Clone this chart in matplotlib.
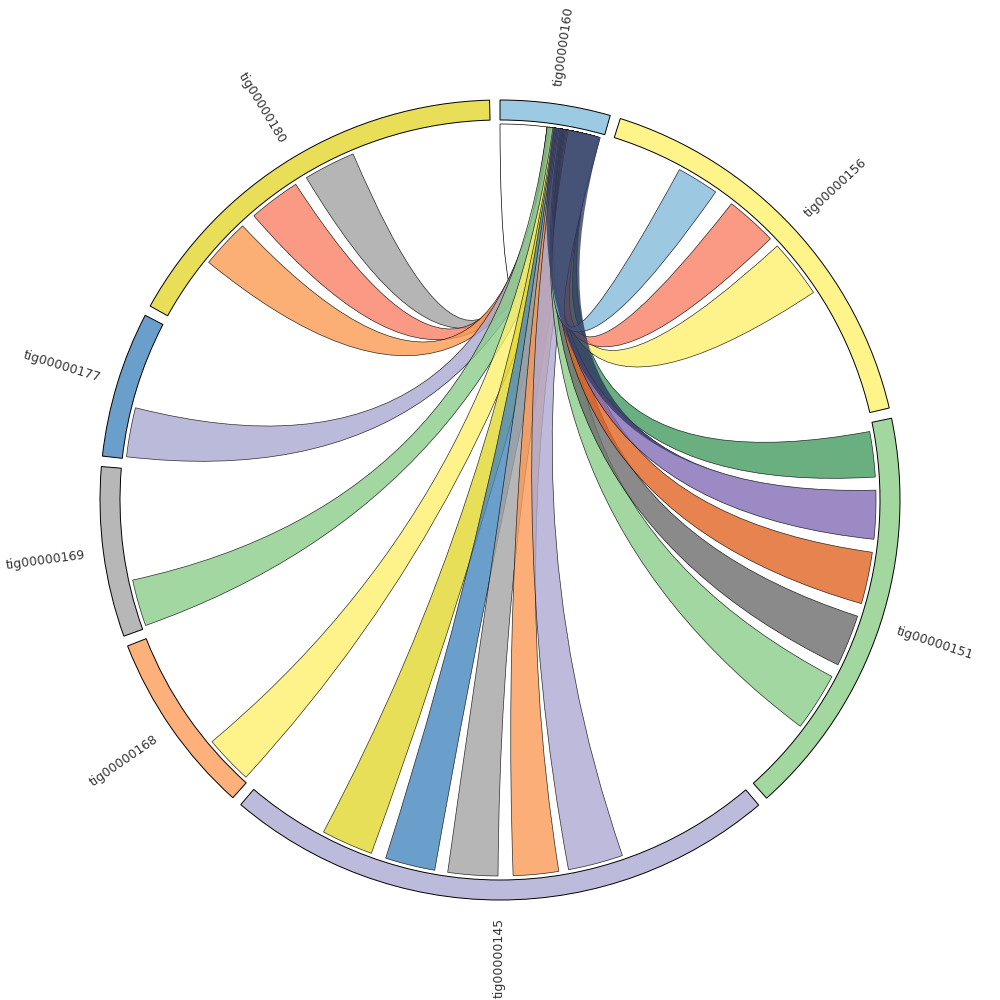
import numpy as np
import matplotlib.pyplot as plt
from matplotlib.path import Path
from matplotlib.patches import PathPatch, Wedge
from matplotlib.colors import to_rgb

# contigs around the circle, clockwise from the top (sizes in degrees of arc)
contigs = ['tig00000160', 'tig00000156', 'tig00000151', 'tig00000145',
           'tig00000168', 'tig00000169', 'tig00000177', 'tig00000180']
sizes = [16.0, 59.2, 60.0, 80.7, 26.7, 24.7, 21.2, 59.5]
arc_colors = ['#9ccae3', '#fef48a', '#a2d8a0', '#bcbbdc',
              '#fdb07a', '#b7b7b7', '#6a9fcc', '#e8de58']

# links: every one starts on tig00000160 (hub) and ends on a target contig
link_target = ['tig00000160',
               'tig00000180', 'tig00000180', 'tig00000180',
               'tig00000177', 'tig00000169', 'tig00000168',
               'tig00000145', 'tig00000145', 'tig00000145', 'tig00000145', 'tig00000145',
               'tig00000151', 'tig00000151', 'tig00000151', 'tig00000151', 'tig00000151',
               'tig00000156', 'tig00000156', 'tig00000156',
               'tig00000151']
hub_start = [0.0, 7.2, 7.4, 7.55, 7.75, 7.2, 8.1, 8.3, 8.45, 8.65, 8.8, 9.0,
             9.2, 9.35, 9.55, 9.7, 9.9, 10.1, 10.25, 10.45, 8.1]
hub_end = [7.2, 12.2, 12.4, 12.55, 12.75, 12.9, 13.1, 13.3, 13.45, 13.65, 13.8, 14.0,
           14.2, 14.35, 14.55, 14.7, 14.9, 15.1, 15.25, 15.45, 15.5]
tgt_start = [9.0, 30.0, 20.1, 10.2, 0.3, 0.4, 0.6, 60.3, 50.3, 40.6, 31.3, 21.3,
             39.8, 29.8, 19.8, 10.3, 1.3, 30.0, 20.5, 11.0, 10.3]
tgt_end = [15.0, 38.0, 28.1, 17.8, 7.9, 7.6, 8.1, 68.3, 58.0, 48.3, 38.3, 29.8,
           48.8, 37.8, 27.8, 17.8, 8.3, 39.0, 28.5, 17.5, 10.3]
link_colors = ['#ffffff',
               '#b5b5b5', '#fa9a84', '#fcaf74',
               '#bcbadb', '#a2d7a2', '#fef38a',
               '#e9e058', '#6a9ecc', '#b6b6b6', '#fbae78', '#bdbadb',
               '#a2d7a2', '#8a8a8a', '#e6834f', '#9b8ac4', '#6aaf80',
               '#fef38a', '#fa9a84', '#9dc9e2',
               '#5b6282']

gap = 1.5
r_out, r_in, r_link = 400, 380, 376
alpha = 0.8

starts = {}
pos = 0.0
for name, s in zip(contigs, sizes):
    starts[name] = pos
    pos += s + gap


def xy(theta, r):
    a = np.radians(90 - theta)
    return (r * np.cos(a), r * np.sin(a))


def base_color(c, a):
    rgb = np.array(to_rgb(c))
    return tuple(np.clip((rgb - (1 - a)) / a, 0, 1))


def chord(t1, t2, s1, s2, r):
    n = 30
    arc1 = np.linspace(t1, t2, n)
    arc2 = np.linspace(s1, s2, n)
    verts = [xy(t, r) for t in arc1]
    codes = [Path.MOVETO] + [Path.LINETO] * (n - 1)
    verts += [(0, 0), xy(s1, r)]
    codes += [Path.CURVE3, Path.CURVE3]
    verts += [xy(s, r) for s in arc2[1:]]
    codes += [Path.LINETO] * (n - 1)
    verts += [(0, 0), xy(t1, r), (0, 0)]
    codes += [Path.CURVE3, Path.CURVE3, Path.CLOSEPOLY]
    return Path(verts, codes)


fig = plt.figure(figsize=(10, 10), dpi=100)
ax = fig.add_axes([0, 0, 1, 1])
ax.set_xlim(-500, 500)
ax.set_ylim(-500, 500)
ax.set_aspect('equal')
ax.axis('off')

# outer ring
for name, s, c in zip(contigs, sizes, arc_colors):
    th0 = starts[name]
    th1 = th0 + s
    ax.add_patch(Wedge((0, 0), r_out, 90 - th1, 90 - th0, width=r_out - r_in,
                       facecolor=c, edgecolor='black', lw=0.7))
    mid = (th0 + th1) / 2
    ang = 90 - mid
    x, y = xy(mid, 418)
    if np.cos(np.radians(ang)) >= 0:
        ax.text(x, y, name, rotation=ang, ha='left', va='center',
                rotation_mode='anchor', fontsize=9, color='#333333')
    else:
        ax.text(x, y, name, rotation=ang + 180, ha='right', va='center',
                rotation_mode='anchor', fontsize=9, color='#333333')

# links
hub = contigs[0]
n_links = len(link_target)
for i in range(n_links):
    t1 = starts[hub] + hub_start[i]
    t2 = starts[hub] + hub_end[i]
    s1 = starts[link_target[i]] + tgt_start[i]
    s2 = starts[link_target[i]] + tgt_end[i]
    a = 1.0 if link_colors[i] == '#ffffff' else alpha
    ec = 'none' if i == n_links - 1 else 'black'
    ax.add_patch(PathPatch(chord(t1, t2, s1, s2, r_link),
                           facecolor=base_color(link_colors[i], a), alpha=a,
                           edgecolor=ec, lw=0.5))

fig.savefig('out.png', dpi=100)
